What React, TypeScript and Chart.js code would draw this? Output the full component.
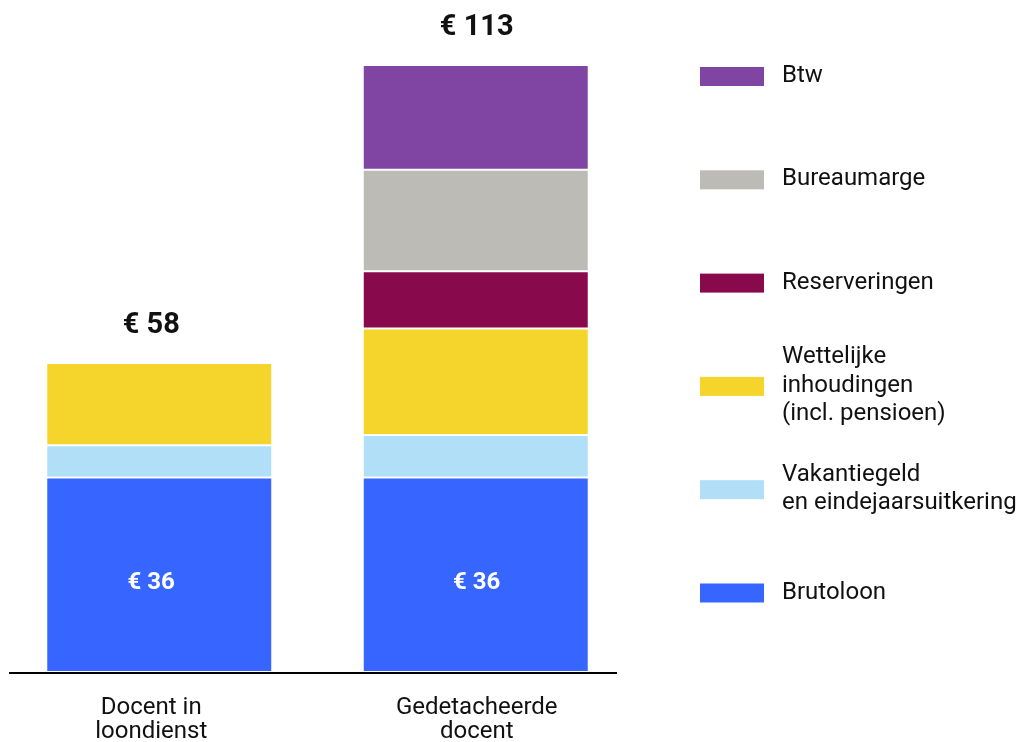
import React, { useEffect, useRef } from "react";
import { Chart, registerables } from "chart.js";

Chart.register(...registerables);

const categories: string[][] = [
  ["Docent in", "loondienst"],
  ["Gedetacheerde", "docent"],
];
const brutoloon: (number | null)[] = [36, 36];
const vakantiegeld: (number | null)[] = [6.0, 7.9];
const wettelijke: (number | null)[] = [15.2, 19.7];
const reserveringen: (number | null)[] = [null, 10.6];
const bureaumarge: (number | null)[] = [null, 18.8];
const btw: (number | null)[] = [null, 19.4];
const totalLabels: string[] = ["€ 58", "€ 113"];
const baseLabels: string[] = ["€ 36", "€ 36"];
const yTicks: number[] = [0, 120];

const seriesNames: string[][] = [
  ["Brutoloon"],
  ["Vakantiegeld", "en eindejaarsuitkering"],
  ["Wettelijke", "inhoudingen", "(incl. pensioen)"],
  ["Reserveringen"],
  ["Bureaumarge"],
  ["Btw"],
];
const seriesColors: string[] = [
  "#3665FF",
  "#B1DFF8",
  "#F5D52C",
  "#880A4C",
  "#BDBBB5",
  "#8045A2",
];
const seriesValues = [brutoloon, vakantiegeld, wettelijke, reserveringen, bureaumarge, btw];

const FONT = "Roboto, 'Noto Sans', sans-serif";

const overlayPlugin = {
  id: "overlay",
  afterDatasetsDraw(chart: any) {
    const ctx = chart.ctx as CanvasRenderingContext2D;
    const y = chart.scales.y;
    const x = chart.scales.x;
    const shift = [-8, 1];
    ctx.save();
    // axis line
    ctx.strokeStyle = "#000";
    ctx.lineWidth = 2;
    ctx.beginPath();
    ctx.moveTo(9, 673);
    ctx.lineTo(617, 673);
    ctx.stroke();

    categories.forEach((lines, i) => {
      const cx = x.getPixelForValue(i) + shift[i];
      let total = 0;
      seriesValues.forEach((s) => {
        total += s[i] ?? 0;
      });
      const topY = y.getPixelForValue(total);
      ctx.fillStyle = "#111";
      ctx.textAlign = "center";
      ctx.textBaseline = "middle";
      ctx.font = `bold 29px ${FONT}`;
      ctx.fillText(totalLabels[i], cx, topY - 37);

      const b = brutoloon[i] ?? 0;
      const by = (y.getPixelForValue(b) + y.getPixelForValue(0)) / 2 + 8;
      ctx.fillStyle = "#fff";
      ctx.font = `bold 24px ${FONT}`;
      ctx.fillText(baseLabels[i], cx, by);

      ctx.fillStyle = "#111";
      ctx.font = `24px ${FONT}`;
      lines.forEach((l, k) => {
        ctx.fillText(l, cx, 708 + k * 24);
      });
    });

    // legend (top item = last series)
    ctx.textAlign = "left";
    ctx.textBaseline = "middle";
    ctx.font = `24px ${FONT}`;
    const n = seriesNames.length;
    for (let k = 0; k < n; k++) {
      const idx = n - 1 - k;
      const cy = 76 + k * 103.3;
      ctx.fillStyle = seriesColors[idx];
      ctx.fillRect(700, cy - 9, 64, 19);
      ctx.fillStyle = "#111";
      const lines = seriesNames[idx];
      const lh = 28.5;
      lines.forEach((l, j) => {
        ctx.fillText(l, 782, cy + (j - (lines.length - 1) / 2) * lh);
      });
    }
    ctx.restore();
  },
};

export default function App() {
  const ref = useRef<HTMLCanvasElement | null>(null);
  useEffect(() => {
    if (!ref.current) return;
    const chart = new Chart(ref.current, {
      type: "bar",
      data: {
        labels: categories.map((c) => c.join(" ")),
        datasets: seriesValues.map((vals, i) => ({
          label: seriesNames[i].join(" "),
          data: vals,
          backgroundColor: seriesColors[i],
          borderColor: "rgba(255,255,255,0.85)",
          borderWidth: 1,
          borderSkipped: false,
          barPercentage: 1,
          categoryPercentage: 0.714,
        })),
      },
      options: {
        responsive: false,
        animation: false,
        devicePixelRatio: 1,
        layout: { padding: { left: 1, right: 383, top: 24, bottom: 70 } },
        plugins: { legend: { display: false }, tooltip: { enabled: false } },
        scales: {
          x: { stacked: true, display: false, grid: { display: false } },
          y: {
            stacked: true,
            display: false,
            min: yTicks[0],
            max: yTicks[1],
          },
        },
      },
      plugins: [overlayPlugin],
    });
    return () => chart.destroy();
  }, []);
  return (
    <div style={{ position: "absolute", left: 0, top: 0, width: 1017, height: 742, background: "#fff" }}>
      <canvas ref={ref} width={1017} height={742} style={{ display: "block" }} />
    </div>
  );
}
